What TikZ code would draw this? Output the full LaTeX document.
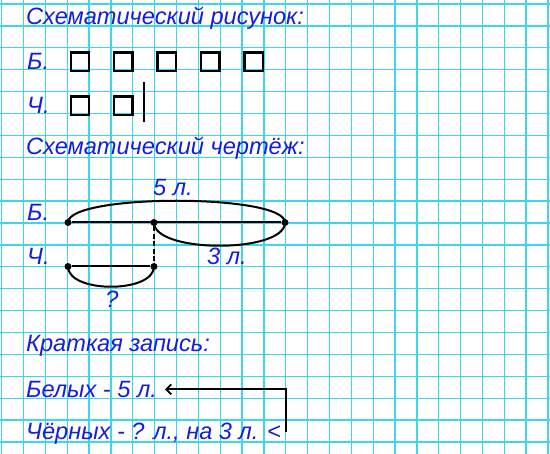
\documentclass[tikz,border=0pt]{standalone}
\usepackage{fontspec}
\setmainfont{Liberation Sans}
\usepackage{tikz}
\usetikzlibrary{arrows.meta, positioning}

\definecolor{ink}{RGB}{20,30,225}
\definecolor{gridc}{RGB}{60,215,235}

\tikzset{
  lbl/.style={anchor=base west, inner sep=0pt, text=ink,
    font=\itshape\fontsize{23.6}{26}\selectfont},
  sq/.style={draw, line width=2.4pt, minimum size=18.5pt, inner sep=0pt, anchor=north west},
  dot/.style={circle, fill, inner sep=0pt, minimum size=7pt}
}

\begin{document}
\begin{tikzpicture}[x=1pt, y=-1pt]
  \useasboundingbox (0,0) rectangle (550,454);
  \fill[white] (0,0) rectangle (550,454);
  % grid
  \foreach \i in {0,...,25}
    \draw[gridc, line width=1.3pt] (1.7+21.85*\i,0) -- (1.7+21.85*\i,454);
  \foreach \j in {0,...,20}
    \draw[gridc, line width=1.3pt] (0,4+21.9*\j) -- (550,4+21.9*\j);

  % schematic picture
  \node[lbl] (t1) at (26,25) {Схематический рисунок:};
  \node[lbl] (b) at (27,70) {Б.};
  \node[lbl] (c) at (27,114) {Ч.};
  \foreach \k in {0,...,4}
    \node[sq] (bs\k) at (69.5+43.4*\k,51.2) {};
  \foreach \k in {0,1}
    \node[sq] (cs\k) at (69.5+43.4*\k,95.2) {};
  \coordinate (bar1) at (144,82);
  \coordinate (bar2) at (144,122);
  \draw[line width=2pt] (bar1) -- (bar2);

  % schematic drawing
  \node[lbl] (t2) at (26,155) {Схематический чертёж:};
  \node[lbl] (b2) at (27,220.5) {Б.};
  \node[lbl] (c2) at (27,265) {Ч.};
  \node[dot] (A) at (68,222.5) {};
  \node[dot] (B) at (154,222.5) {};
  \node[dot] (C) at (285,222.5) {};
  \node[dot] (D) at (68,266.5) {};
  \node[dot] (E) at (154,266.5) {};
  \draw[line width=2pt] (A) -- (C);
  \draw[line width=2pt] (D) -- (E);
  \draw[line width=2pt, dash pattern=on 5pt off 2.5pt] (B) -- (E);
  \draw[line width=2pt] (A.center) .. controls +(0,-29) and +(0,-29) .. (C.center);
  \draw[line width=2pt] (B.center) .. controls +(0,31) and +(0,31) .. (C.center);
  \draw[line width=2pt] (D.center) .. controls +(0,27) and +(0,27) .. (E.center);
  \node[lbl, anchor=base] (five) at (173,196) {5 л.};
  \node[lbl] (three) at (207,265) {3 л.};
  \node[lbl, anchor=base] (q) at (112,308) {?};

  % short record
  \node[lbl] (t3) at (26,351.5) {Краткая запись:};
  \node[lbl] (w) at (26,398) {Белых - 5 л.};
  \node[lbl] (k) at (26,440) {Чёрных - ? л., на 3 л. <};
  \coordinate (tip) at (165,389.3);
  \coordinate (low) at (286,432);
  \draw[line width=1.8pt, -{Straight Barb[length=5pt, width=10pt]}] (low) |- (tip);
\end{tikzpicture}
\end{document}
